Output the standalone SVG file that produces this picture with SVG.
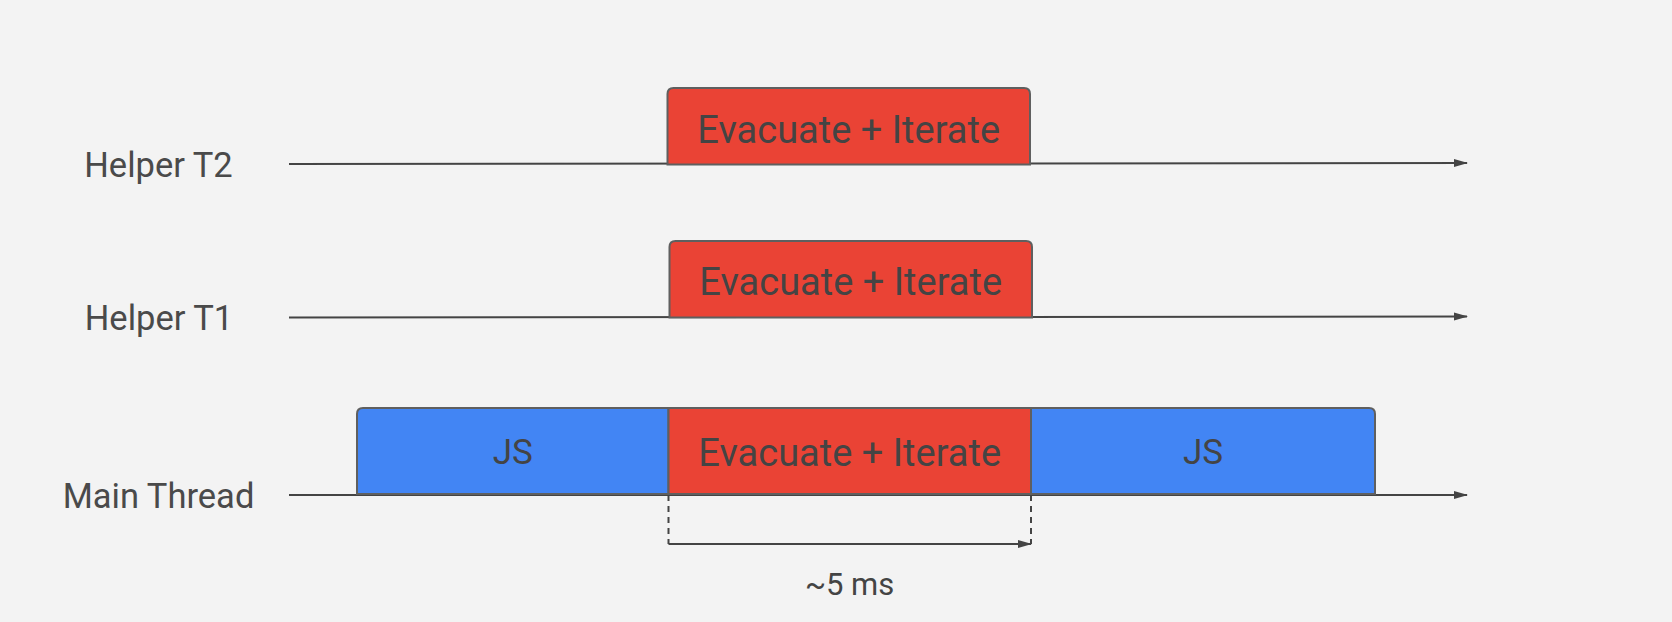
<svg xmlns="http://www.w3.org/2000/svg" width="1672" height="622" viewBox="0 0 1672 622">
<defs>
<marker id="arr" markerWidth="14" markerHeight="10" refX="13" refY="5" orient="auto" markerUnits="userSpaceOnUse">
<path d="M0,1 L14,5 L0,9 Z" fill="#444"/>
</marker>
<style>
.lbl{font-family:Roboto,"Open Sans",sans-serif;font-size:34.5px;fill:#4a4a4a;text-anchor:middle}
.box-text{font-family:Roboto,"Open Sans",sans-serif;font-size:38px;fill:#444;text-anchor:middle}
.js-text{font-family:Roboto,"Open Sans",sans-serif;font-size:35px;fill:#444;text-anchor:middle}
.dim{font-family:Roboto,"Liberation Sans",sans-serif;font-size:31px;fill:#444;text-anchor:middle}
.red{fill:#ea4335;stroke:#5f5f5f;stroke-width:2}
.blue{fill:#4285f4;stroke:#5f5f5f;stroke-width:2}
.axis{stroke:#444;stroke-width:2;fill:none}
</style>
</defs>
<rect width="1672" height="622" fill="#f3f3f3"/>
<g id="connectors">
<line class="axis" x1="289" y1="164" x2="1467" y2="163" marker-end="url(#arr)"/>
<line class="axis" x1="289" y1="317.5" x2="1467" y2="316.5" marker-end="url(#arr)"/>
<line class="axis" x1="289" y1="495" x2="1467" y2="495" marker-end="url(#arr)"/>
<line class="axis" x1="668.5" y1="495" x2="668.5" y2="544" stroke-dasharray="6,5" stroke-width="1.5"/>
<line class="axis" x1="1031" y1="495" x2="1031" y2="544" stroke-dasharray="6,5" stroke-width="1.5"/>
<line class="axis" x1="668.5" y1="544" x2="1031" y2="544" marker-end="url(#arr)"/>
</g>
<g id="label-t2"><text class="lbl" x="158.5" y="176.5">Helper T2</text></g>
<g id="label-t1"><text class="lbl" x="159" y="330">Helper T1</text></g>
<g id="label-main"><text class="lbl" x="158.5" y="508">Main Thread</text></g>
<g id="t2-evac">
<path class="red" d="M667.5,164.5 V94 Q667.5,88 673.5,88 H1024 Q1030,88 1030,94 V164.5 Z"/>
<text class="box-text" x="848.7" y="142.5">Evacuate + Iterate</text>
</g>
<g id="t1-evac">
<path class="red" d="M669.5,317.5 V247 Q669.5,241 675.5,241 H1026 Q1032,241 1032,247 V317.5 Z"/>
<text class="box-text" x="850.7" y="294.5">Evacuate + Iterate</text>
</g>
<g id="main-js1">
<path class="blue" d="M357,494 V414 Q357,408 363,408 H668.5 V494 Z"/>
<text class="js-text" x="512.7" y="464">JS</text>
</g>
<g id="main-evac">
<rect class="red" x="668.5" y="408" width="362.5" height="86"/>
<text class="box-text" x="849.7" y="465.5">Evacuate + Iterate</text>
</g>
<g id="main-js2">
<path class="blue" d="M1031,494 V408 H1369 Q1375,408 1375,414 V494 Z"/>
<text class="js-text" x="1203" y="464">JS</text>
</g>
<g id="dim-label"><text class="dim" x="849.6" y="595">~5 ms</text></g>
</svg>
